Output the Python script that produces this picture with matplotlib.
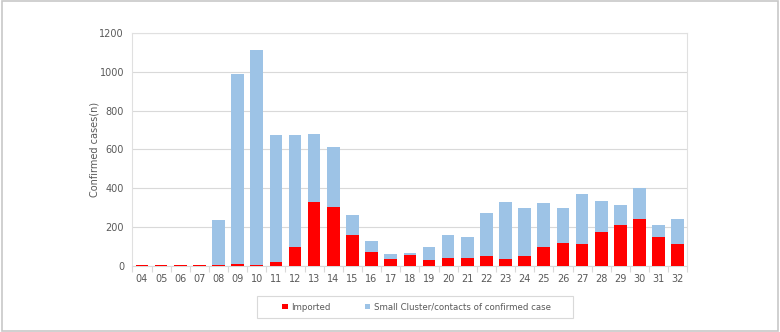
import matplotlib
matplotlib.use("Agg")
import matplotlib.pyplot as plt
from matplotlib.patches import Rectangle
import numpy as np

weeks = ["04", "05", "06", "07", "08", "09", "10", "11", "12", "13", "14", "15", "16", "17", "18",
         "19", "20", "21", "22", "23", "24", "25", "26", "27", "28", "29", "30", "31", "32"]
imported = [3, 5, 5, 3, 3, 8, 3, 20, 97, 328, 303, 159, 73, 34, 56,
            32, 43, 43, 50, 34, 50, 97, 116, 113, 174, 210, 243, 149, 113]
total = [3, 5, 5, 3, 237, 990, 1110, 672, 672, 680, 614, 262, 130, 63, 67,
         96, 161, 147, 272, 330, 301, 323, 296, 373, 335, 315, 402, 209, 241]
cluster = [t - i for t, i in zip(total, imported)]

TXT = "#595959"
RED = "#FF0000"
BLUE = "#9DC3E6"

fig = plt.figure(figsize=(7.8, 3.32), dpi=100)
fig.patches.append(Rectangle((0.002, 0.003), 0.996, 0.994, transform=fig.transFigure,
                             fill=False, edgecolor="#c8c8c8", linewidth=1.2))
ax = fig.add_axes([0.1697, 0.199, 0.7115, 0.7016])

x = np.arange(len(weeks))
w = 0.66
ax.bar(x, imported, width=w, color=RED, label="Imported", zorder=3)
ax.bar(x, cluster, width=w, bottom=imported, color=BLUE,
       label="Small Cluster/contacts of confirmed case", zorder=3)

ax.set_xlim(-0.5, len(weeks) - 0.5)
ax.set_ylim(0, 1200)
ax.set_yticks(range(0, 1201, 200))
ax.yaxis.grid(True, color="#d9d9d9", linewidth=0.8, zorder=0)
ax.set_axisbelow(True)

ax.set_xticks(x)
ax.set_xticklabels(weeks)
ax.set_xticks(np.arange(-0.5, len(weeks), 1), minor=True)
ax.tick_params(axis="x", which="major", length=0, pad=6, labelsize=7, labelcolor=TXT)
ax.tick_params(axis="x", which="minor", length=4, color="#d9d9d9", width=0.8)
ax.tick_params(axis="y", length=0, pad=6, labelsize=7, labelcolor=TXT)

for s in ["top", "right", "left"]:
    ax.spines[s].set_color("#e0e0e0")
    ax.spines[s].set_linewidth(0.8)
ax.spines["bottom"].set_color("#d9d9d9")
ax.spines["bottom"].set_linewidth(0.8)

ax.set_ylabel("Confirmed cases(n)", fontsize=7, color=TXT, labelpad=0)

# legend box (drawn separately to get the wide Excel-style frame)
fig.patches.append(Rectangle((257 / 780, 1 - 318 / 332), 316 / 780, 22 / 332,
                             transform=fig.transFigure, fill=False,
                             edgecolor="#d9d9d9", linewidth=0.8))
leg = fig.legend(loc="center", bbox_to_anchor=(0.534, 0.0753), ncol=2, fontsize=6.2,
                 frameon=False, handlelength=0.6, handleheight=0.6,
                 handletextpad=0.4, columnspacing=4.0)
for t in leg.get_texts():
    t.set_color(TXT)

fig.savefig("out.png", dpi=100)
